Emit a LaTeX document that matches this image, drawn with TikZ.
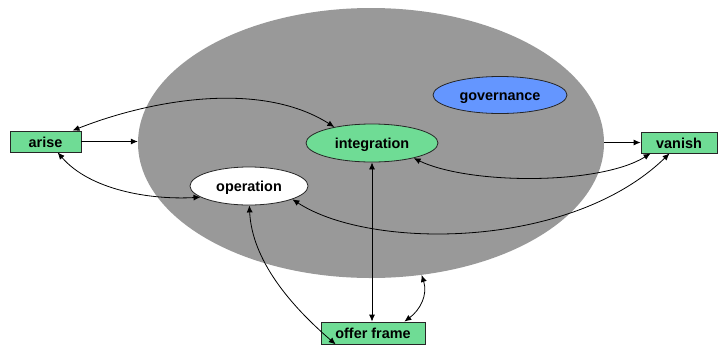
\documentclass[tikz,border=0pt]{standalone}
\usepackage{fontspec}
\setmainfont{Liberation Sans}
\usetikzlibrary{shapes.geometric,arrows.meta}
\definecolor{boxgreen}{RGB}{111,220,149}
\definecolor{govblue}{RGB}{100,150,255}
\definecolor{biggray}{RGB}{153,153,153}
\tikzset{
  lbl/.style={font=\fontsize{14.4}{16}\selectfont\bfseries, inner sep=0pt, text height=12pt, text depth=1pt},
  gbox/.style={lbl, draw=black!85, line width=0.8pt, fill=boxgreen, rectangle},
  ell/.style={lbl, draw=black!85, line width=0.8pt, ellipse},
  conn/.style={line width=0.8pt, draw=black, {Latex[length=7pt,width=6pt]}-{Latex[length=7pt,width=6pt]}},
  oneway/.style={line width=0.8pt, draw=black, -{Latex[length=7pt,width=6pt]}}
}
\begin{document}
\begin{tikzpicture}[x=1pt,y=-1pt]
\useasboundingbox (0,0) rectangle (720,349);
\node[ellipse, fill=biggray, minimum width=466pt, minimum height=270pt, inner sep=0pt] (big) at (371,143) {};
\node[gbox, minimum width=71pt, minimum height=21pt] (arise) at (45.5,141.5) {arise};
\node[gbox, minimum width=76pt, minimum height=21pt] (vanish) at (679,142.5) {vanish};
\node[gbox, minimum width=104pt, minimum height=22pt] (offer) at (373,333) {offer frame};
\node[ell, fill=boxgreen, minimum width=132pt, minimum height=38pt] (integ) at (372,143) {integration};
\node[ell, fill=govblue, minimum width=134pt, minimum height=37pt] (gov) at (500,95) {governance};
\node[ell, fill=white, minimum width=118pt, minimum height=38pt] (oper) at (249,186) {operation};

\draw[conn] (arise.22) .. controls (150,100) and (260,80) .. (integ.157);
\draw[oneway] (arise.east) -- (arise.east -| big.west);
\draw[conn] (arise.-42) .. controls (90,190) and (150,200) .. (oper.193);
\draw[conn] (integ.-20) .. controls (470,185) and (600,185) .. (vanish.201);
\draw[conn] (oper.-17) .. controls (370,250) and (570,250) .. (vanish.229);
\draw[oneway] (vanish.west -| big.east) -- (vanish.west);
\draw[conn] (oper.-89) .. controls (252,260) and (290,305) .. (offer.197);
\draw[conn] (integ.south) -- (integ.south |- offer.north);
\draw[conn] (offer.20) .. controls (420,310) and (428,295) .. (big.-69);
\end{tikzpicture}
\end{document}
